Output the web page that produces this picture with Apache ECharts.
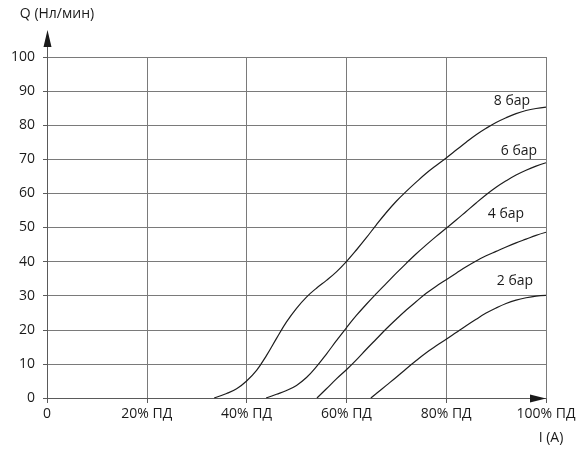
<!DOCTYPE html>
<html><head><meta charset="utf-8">
<script src="https://cdn.jsdelivr.net/npm/echarts@6/dist/echarts.min.js"></script>
<style>html,body{margin:0;padding:0;background:#fff}#c{width:588px;height:455px}</style>
</head><body><div id="c"></div>
<script>
// ---- data ----
const seriesNames = ['8 бар', '6 бар', '4 бар', '2 бар'];
const bar8 = [[33.5,0],[36,1.3],[38,2.7],[40,5],[42,8.1],[44,12.5],[46,17.5],[48,22.3],[50,26.3],[52,29.6],[54,32.2],[56,34.5],[58,37],[60,40],[62,43.4],[64,47],[66,50.8],[68,54.4],[70,57.7],[72,60.6],[74,63.3],[76,65.9],[78,68.2],[80,70.4],[82,72.7],[84,75],[86,77.2],[88,79.1],[90,80.8],[92,82.2],[94,83.4],[96,84.3],[98,84.9],[100,85.3]];
const bar6 = [[43.9,0],[46,1.1],[48,2.2],[50,3.7],[52,6],[54,9.2],[56,12.9],[58,16.8],[60,20.6],[62,24.2],[64,27.5],[66,30.6],[68,33.6],[70,36.6],[72,39.5],[74,42.3],[76,44.9],[78,47.4],[80,49.8],[82,52.2],[84,54.7],[86,57.2],[88,59.6],[90,61.8],[92,63.7],[94,65.4],[96,66.8],[98,68],[100,69]];
const bar4 = [[54.1,0],[56,2.7],[58,5.6],[60,8.3],[62,11.2],[64,14.3],[66,17.3],[68,20.3],[70,23.1],[72,25.8],[74,28.3],[76,30.7],[78,32.8],[80,34.7],[82,36.6],[84,38.5],[86,40.2],[88,41.7],[90,43],[92,44.3],[94,45.5],[96,46.6],[98,47.7],[100,48.6]];
const bar2 = [[64.9,0],[66,1.3],[68,3.7],[70,6.1],[72,8.6],[74,11],[76,13.3],[78,15.3],[80,17.2],[82,19.2],[84,21.2],[86,23.1],[88,24.9],[90,26.4],[92,27.7],[94,28.7],[96,29.4],[98,29.9],[100,30.1]];
const xTickValues = [0, 20, 40, 60, 80, 100];
const xTickSuffix = '% ПД';
const yTickValues = [0, 10, 20, 30, 40, 50, 60, 70, 80, 90, 100];
const yName = 'Q (Нл/мин)';
const xName = 'I (A)';

// ---- styles ----
const FONT = '"Open Sans", sans-serif';
const TXT = '#1a1a1a';
const GRID = '#7a7a7a';
const AXIS = '#5a5a5a';
const ARROW = '#1a1a1a';
const labelOffsets = [[-34, -6], [-27, -12], [-40, -18], [-31, -14]];

const allSeries = [bar8, bar6, bar4, bar2];

const chart = echarts.init(document.getElementById('c'), null, {renderer: 'canvas'});
const option = {
  animation: false,
  backgroundColor: '#ffffff',
  grid: {left: 47, right: 42, top: 57, bottom: 57, containLabel: false},
  xAxis: {
    type: 'value', min: xTickValues[0], max: xTickValues[xTickValues.length - 1], interval: 20,
    name: xName, nameLocation: 'end', nameGap: 5,
    nameTextStyle: {fontFamily: FONT, fontSize: 14, color: TXT, align: 'center', verticalAlign: 'top', padding: [33, 0, 0, 0]},
    axisLine: {show: true, lineStyle: {color: AXIS, width: 1}},
    axisTick: {show: true, length: 5, lineStyle: {color: AXIS}},
    axisLabel: {fontFamily: FONT, fontSize: 14, color: TXT, margin: 9,
      formatter: v => v === 0 ? '0' : v + xTickSuffix},
    splitLine: {show: true, lineStyle: {color: GRID, width: 1}}
  },
  yAxis: {
    type: 'value', min: yTickValues[0], max: yTickValues[yTickValues.length - 1], interval: 10,
    name: yName, nameLocation: 'end', nameGap: 36,
    nameTextStyle: {fontFamily: FONT, fontSize: 14, color: TXT, align: 'center', padding: [0, 0, 0, 20]},
    axisLine: {show: true, lineStyle: {color: AXIS, width: 1}},
    axisTick: {show: true, length: 4, lineStyle: {color: AXIS}},
    axisLabel: {fontFamily: FONT, fontSize: 14, color: TXT, margin: 12},
    splitLine: {show: true, lineStyle: {color: GRID, width: 1}}
  },
  series: allSeries.map((d, i) => ({
    name: seriesNames[i],
    type: 'line',
    data: d,
    smooth: 0.4,
    showSymbol: false,
    symbol: 'none',
    lineStyle: {color: '#1e1e1e', width: 1.2},
    z: 5,
    markPoint: {
      symbol: 'circle', symbolSize: 1,
      itemStyle: {color: 'rgba(0,0,0,0)'},
      label: {show: true, position: 'inside', offset: labelOffsets[i], formatter: seriesNames[i],
        fontFamily: FONT, fontSize: 14, color: TXT},
      data: [{coord: d[d.length - 1]}]
    }
  }))
};
chart.setOption(option);

// axis arrows (decoration), placed from the axes' own pixel positions
const pTop = chart.convertToPixel({gridIndex: 0}, [xTickValues[0], yTickValues[yTickValues.length - 1]]);
const pRight = chart.convertToPixel({gridIndex: 0}, [xTickValues[xTickValues.length - 1], yTickValues[0]]);
const ax = Math.round(pTop[0]) + 0.5;
const ay = Math.round(pRight[1]) + 0.5;
chart.setOption({
  graphic: [
    {type: 'line', z: 10, shape: {x1: ax, y1: pTop[1], x2: ax, y2: pTop[1] - 14}, style: {stroke: AXIS, lineWidth: 1}},
    {type: 'polygon', z: 11, shape: {points: [[ax, pTop[1] - 27], [ax - 4, pTop[1] - 10], [ax + 4, pTop[1] - 10]]}, style: {fill: ARROW}},
    {type: 'polygon', z: 11, shape: {points: [[pRight[0], ay], [pRight[0] - 16, ay - 4], [pRight[0] - 16, ay + 4]]}, style: {fill: ARROW}}
  ]
});
</script>
</body></html>
